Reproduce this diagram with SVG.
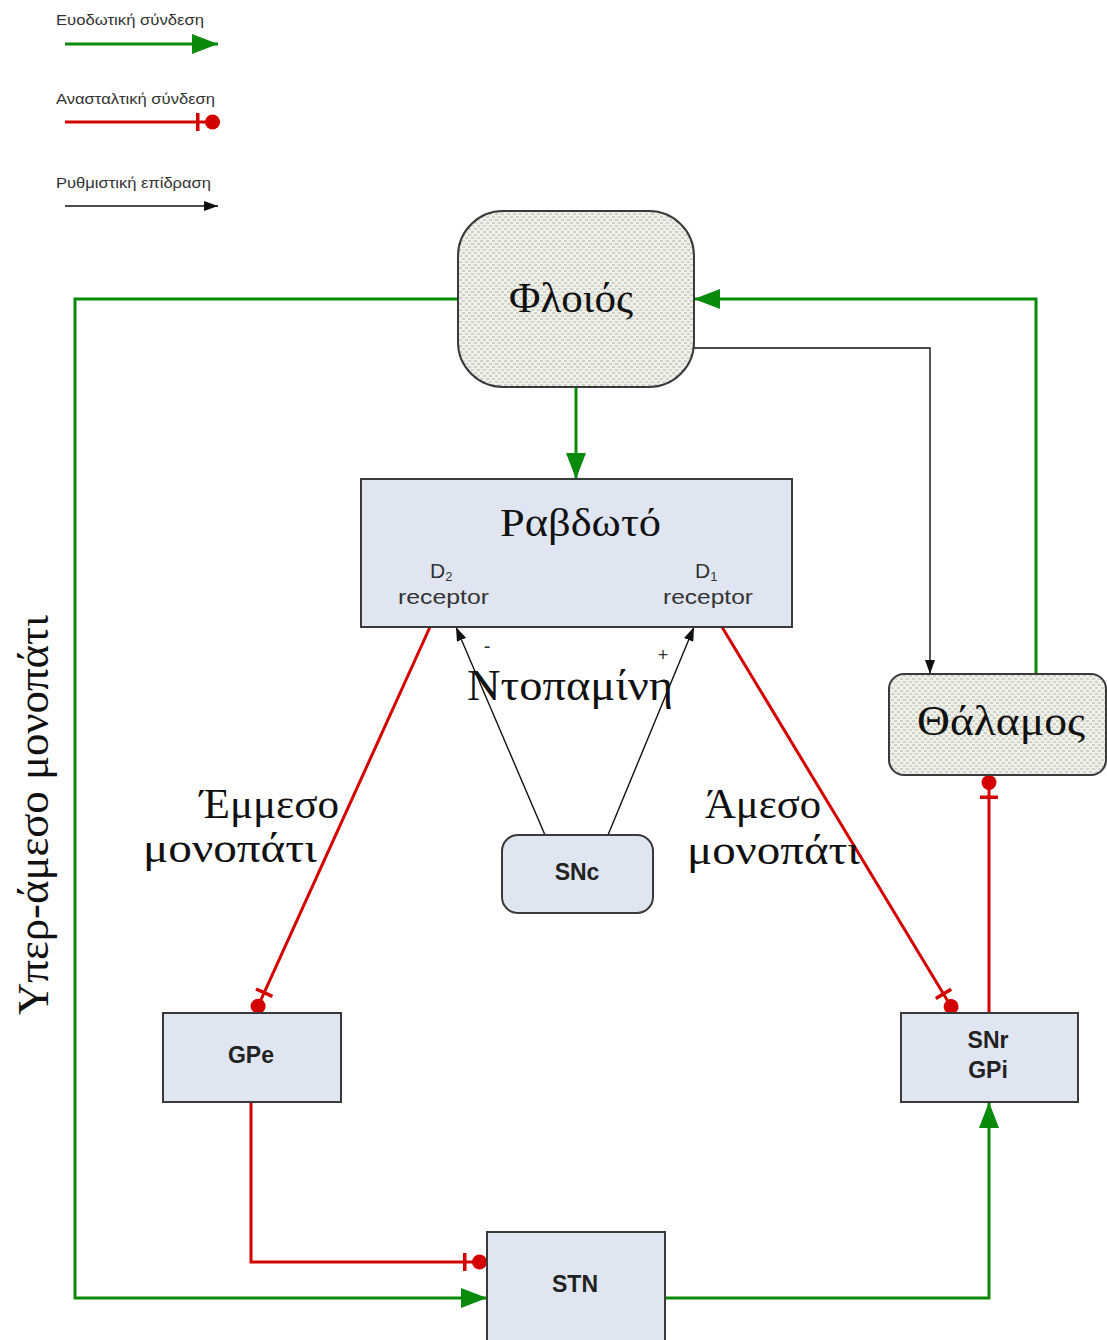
<svg xmlns="http://www.w3.org/2000/svg" width="1107" height="1340" viewBox="0 0 1107 1340">
<defs>
<style>
.node{fill:#dfe6f1;stroke:#3a3a3a;stroke-width:2}
.pat{fill:url(#dots);stroke:#3a3a3a;stroke-width:2}
.serif{font-family:"Liberation Serif","DejaVu Serif",serif;fill:#111}
.sans{font-family:"Liberation Sans",Arial,sans-serif;fill:#333}
.bold{font-family:"Liberation Sans",Arial,sans-serif;font-weight:bold;font-size:23px;fill:#222;text-anchor:middle}
.g{fill:none;stroke:#0a8a0a;stroke-width:3}
.r{fill:none;stroke:#d40000;stroke-width:3}
.k{fill:none;stroke:#111;stroke-width:1.4}
</style>
<pattern id="dots" width="6" height="6" patternUnits="userSpaceOnUse">
<rect width="6" height="6" fill="#eff0e7"/>
<rect x="0" y="0" width="3" height="2" fill="#cfd1cb"/>
<rect x="3" y="3" width="3" height="2" fill="#cfd1cb"/>
</pattern>
<marker id="ga" viewBox="0 0 26 20" refX="26" refY="10" markerWidth="26" markerHeight="20" markerUnits="userSpaceOnUse" orient="auto">
<path d="M0,0 L26,10 L0,20 z" fill="#0a8a0a"/>
</marker>
<marker id="ri" viewBox="0 0 30 20" refX="30" refY="10" markerWidth="30" markerHeight="20" markerUnits="userSpaceOnUse" orient="auto">
<rect x="6" y="1" width="3.5" height="18" fill="#d40000"/>
<circle cx="22.5" cy="10" r="7.5" fill="#d40000"/>
</marker>
<marker id="ka" viewBox="0 0 14 10" refX="14" refY="5" markerWidth="14" markerHeight="10" markerUnits="userSpaceOnUse" orient="auto">
<path d="M0,0 L14,5 L0,10 z" fill="#111"/>
</marker>
</defs>
<rect width="1107" height="1340" fill="#fff"/>

<g id="legend">
<text class="sans" x="56" y="25" font-size="15" textLength="148" lengthAdjust="spacingAndGlyphs">Ευοδωτική σύνδεση</text>
<path class="g" d="M65,44 H218" marker-end="url(#ga)"/>
<text class="sans" x="56" y="104" font-size="15" textLength="159" lengthAdjust="spacingAndGlyphs">Ανασταλτική σύνδεση</text>
<path class="r" d="M65,122 H220" marker-end="url(#ri)"/>
<text class="sans" x="56" y="188" font-size="15" textLength="155" lengthAdjust="spacingAndGlyphs">Ρυθμιστική επίδραση</text>
<path class="k" d="M65,206 H218" marker-end="url(#ka)"/>
</g>

<g id="connectors">
<path class="g" d="M458,299 H75 V1298 H487" marker-end="url(#ga)"/>
<path class="g" d="M1036,674 V299 H694" marker-end="url(#ga)"/>
<path class="g" d="M576,387 V479" marker-end="url(#ga)"/>
<path class="g" d="M665,1298 H989 V1102" marker-end="url(#ga)"/>
<path class="k" d="M694,348 H930 V674" marker-end="url(#ka)"/>
<path class="k" d="M545,835 L456,627" marker-end="url(#ka)"/>
<path class="k" d="M608,835 L694,627" marker-end="url(#ka)"/>
<path class="r" d="M430,627 L255,1013" marker-end="url(#ri)"/>
<path class="r" d="M722,627 L955,1013" marker-end="url(#ri)"/>
<path class="r" d="M989,1013 V775" marker-end="url(#ri)"/>
<path class="r" d="M251,1102 V1262 H487" marker-end="url(#ri)"/>
</g>

<g id="labels">
<text class="sans" x="487" y="653" font-size="20" text-anchor="middle">-</text>
<text class="sans" x="663" y="661" font-size="18" text-anchor="middle">+</text>
<text class="serif" x="467" y="700" font-size="44" textLength="206" lengthAdjust="spacingAndGlyphs">Ντοπαμίνη</text>
<text class="serif" x="200" y="818" font-size="42" textLength="139" lengthAdjust="spacingAndGlyphs">Έμμεσο</text>
<text class="serif" x="143" y="862" font-size="42" textLength="174" lengthAdjust="spacingAndGlyphs">μονοπάτι</text>
<text class="serif" x="705" y="818" font-size="42" textLength="116" lengthAdjust="spacingAndGlyphs">Άμεσο</text>
<text class="serif" x="687" y="864" font-size="42" textLength="173" lengthAdjust="spacingAndGlyphs">μονοπάτι</text>
<text class="serif" transform="translate(48,815) rotate(-90)" x="0" y="0" font-size="44" text-anchor="middle" textLength="400" lengthAdjust="spacingAndGlyphs">Υπερ-άμεσο μονοπάτι</text>
</g>

<g id="floios">
<rect class="pat" x="458" y="211" width="236" height="176" rx="45"/>
<text class="serif" x="509" y="312" font-size="42" textLength="124" lengthAdjust="spacingAndGlyphs">Φλοιός</text>
</g>

<g id="ravdoto">
<rect class="node" x="361" y="479" width="431" height="148"/>
<text class="serif" x="500" y="536" font-size="40" textLength="161" lengthAdjust="spacingAndGlyphs">Ραβδωτό</text>
<text class="sans" x="430" y="578" font-size="21">D<tspan font-size="13" dy="3">2</tspan></text>
<text class="sans" x="398" y="604" font-size="21" textLength="91" lengthAdjust="spacingAndGlyphs">receptor</text>
<text class="sans" x="695" y="578" font-size="21">D<tspan font-size="13" dy="3">1</tspan></text>
<text class="sans" x="663" y="604" font-size="21" textLength="90" lengthAdjust="spacingAndGlyphs">receptor</text>
</g>

<g id="thalamos">
<rect class="pat" x="889" y="674" width="217" height="101" rx="15"/>
<text class="serif" x="917" y="735" font-size="42" textLength="168" lengthAdjust="spacingAndGlyphs">Θάλαμος</text>
</g>

<g id="snc">
<rect class="node" x="502" y="835" width="151" height="78" rx="16"/>
<text class="bold" x="577" y="880">SNc</text>
</g>

<g id="gpe">
<rect class="node" x="163" y="1013" width="178" height="89"/>
<text class="bold" x="251" y="1063">GPe</text>
</g>

<g id="snr-gpi">
<rect class="node" x="901" y="1013" width="177" height="89"/>
<text class="bold" x="988" y="1048">SNr</text>
<text class="bold" x="988" y="1078">GPi</text>
</g>

<g id="stn">
<rect class="node" x="487" y="1232" width="178" height="110"/>
<text class="bold" x="575" y="1292">STN</text>
</g>
</svg>
